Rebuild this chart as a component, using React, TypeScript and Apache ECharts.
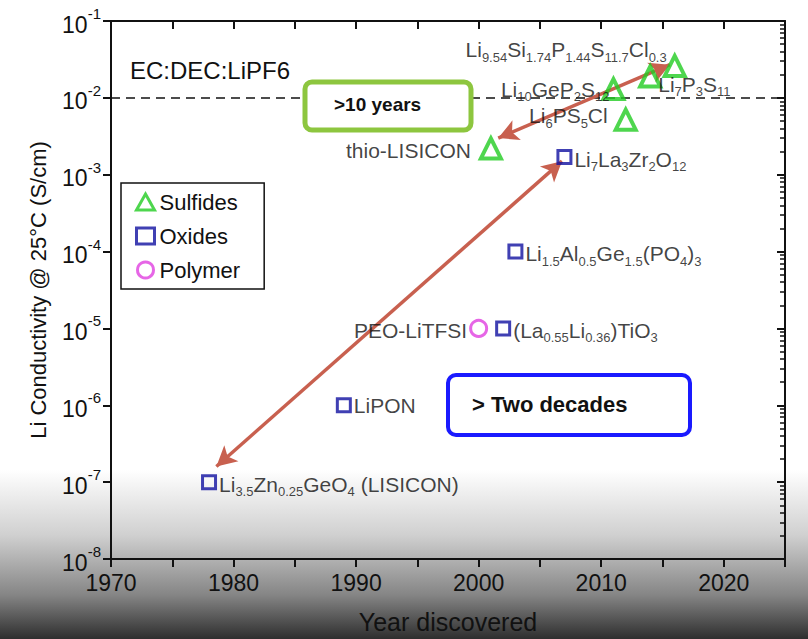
import React, { useEffect, useRef } from "react";
import * as echarts from "echarts";

const sulfideYears = [2001, 2012, 2011, 2014, 2016];
const sulfideValues = [2.2e-3, 5.2e-3, 1.3e-2, 1.9e-2, 2.6e-2];
const sulfideLabels = [
  "{n|thio-LISICON}",
  "{n|Li}{s|6}{n|PS}{s|5}{n|Cl}",
  "{n|Li}{s|10}{n|GeP}{s|2}{n|S}{s|12}",
  "{n|Li}{s|7}{n|P}{s|3}{n|S}{s|11}",
  "{n|Li}{s|9.54}{n|Si}{s|1.74}{n|P}{s|1.44}{n|S}{s|11.7}{n|Cl}{s|0.3}",
];
const oxideYears = [1978, 1989, 2002, 2003, 2007];
const oxideValues = [1e-7, 1e-6, 1e-5, 1e-4, 1.7e-3];
const oxideLabels = [
  "{n|Li}{s|3.5}{n|Zn}{s|0.25}{n|GeO}{s|4}{n| (LISICON)}",
  "{n|LiPON}",
  "{n|(La}{s|0.55}{n|Li}{s|0.36}{n|)TiO}{s|3}",
  "{n|Li}{s|1.5}{n|Al}{s|0.5}{n|Ge}{s|1.5}{n|(PO}{s|4}{n|)}{s|3}",
  "{n|Li}{s|7}{n|La}{s|3}{n|Zr}{s|2}{n|O}{s|12}",
];
const polymerYears = [2000];
const polymerValues = [1e-5];
const polymerLabels = ["{n|PEO-LiTFSI}"];
const xTicks = [1970, 1980, 1990, 2000, 2010, 2020];
const electrolyteLevel = 1e-2;
const arrowLong = [[1978.6, 1.6e-7], [2006.8, 1.5e-3]];
const arrowShort = [[2001.6, 3.0e-3], [2015.6, 2.7e-2]];

const FONT = "Liberation Sans, Arial, sans-serif";
const rich = {
  n: { fontSize: 21, color: "#111", fontFamily: FONT, lineHeight: 28, verticalAlign: "middle" },
  s: { fontSize: 13, color: "#111", fontFamily: FONT, lineHeight: 28, verticalAlign: "bottom", padding: [10, 0, 0, 0] },
};

const sulfidePos = [
  { position: "left", offset: [-6, 2] },
  { position: "left", offset: [-4, -4] },
  { position: "left", offset: [10, 0] },
  { position: "right", offset: [-6, 8] },
  { position: "left", offset: [6, -16] },
];
const oxidePos = [
  { position: "right", offset: [0, 2] },
  { position: "right", offset: [0, 0] },
  { position: "right", offset: [0, 2] },
  { position: "right", offset: [0, 2] },
  { position: "right", offset: [0, 2] },
];

export default function App() {
  const ref = useRef<HTMLDivElement>(null);
  useEffect(() => {
    const chart = echarts.init(ref.current!, null, { renderer: "svg" });
    const mk = (ys: number[], vs: number[], labels: string[], pos: any[]) =>
      ys.map((y, i) => ({
        value: [y, vs[i]],
        label: { show: true, formatter: labels[i], rich, position: pos[i].position, offset: pos[i].offset, distance: 2 },
      }));
    const yFmt = (v: number) => "{b|10}{p|" + Math.round(Math.log10(v)) + "}";
    chart.setOption({
      animation: false,
      backgroundColor: "transparent",
      grid: { left: 111, right: 23, top: 21, bottom: 53 },
      legend: {
        left: 121, top: 183, orient: "vertical", borderColor: "#111", borderWidth: 1.5,
        padding: [8, 24, 8, 14], itemGap: 12, itemWidth: 18, itemHeight: 16,
        backgroundColor: "#fff",
        itemStyle: { borderWidth: 3 },
        textStyle: { fontSize: 22, fontFamily: FONT, color: "#111" },
        data: ["Sulfides", "Oxides", "Polymer"],
      },
      xAxis: [
        {
          type: "value", min: 1970, max: 2025, interval: 10,
          axisLine: { lineStyle: { color: "#111", width: 2 } },
          axisTick: { show: true, length: 8, lineStyle: { width: 2 } },
          minorTick: { show: true, splitNumber: 2, length: 8, lineStyle: { color: "#111", width: 2 } },
          splitLine: { show: false },
          axisLabel: { fontSize: 23, fontFamily: FONT, color: "#111", margin: 12, formatter: (v: number) => (xTicks.includes(v) ? String(v) : "") },
          name: "Year discovered", nameLocation: "middle", nameGap: 50,
          nameTextStyle: { fontSize: 25, fontFamily: FONT, color: "#111" },
        },
        {
          type: "value", min: 1970, max: 2025, interval: 10, position: "top",
          axisLine: { lineStyle: { color: "#111", width: 2 } },
          axisTick: { show: true, inside: true, length: 8, lineStyle: { width: 2 } },
          minorTick: { show: true, splitNumber: 2, length: 8, lineStyle: { color: "#111", width: 2 } },
          splitLine: { show: false }, axisLabel: { show: false },
        },
      ],
      yAxis: [
        {
          type: "log", min: 1e-8, max: 1e-1, logBase: 10, interval: 1,
          axisLine: { show: true, lineStyle: { color: "#111", width: 2 } },
          axisTick: { show: true, length: 8, lineStyle: { width: 2 } },
          splitLine: { show: false },
          axisLabel: {
            formatter: yFmt, margin: 10,
            rich: {
              b: { fontSize: 23, fontFamily: FONT, color: "#111", lineHeight: 30, verticalAlign: "bottom" },
              p: { fontSize: 15, fontFamily: FONT, color: "#111", lineHeight: 30, verticalAlign: "top" },
            },
          },
          name: "Li Conductivity @ 25°C (S/cm)", nameLocation: "middle", nameGap: 62,
          nameTextStyle: { fontSize: 22, fontFamily: FONT, color: "#111" },
        },
        {
          type: "log", min: 1e-8, max: 1e-1, logBase: 10, position: "right",
          axisLine: { show: true, lineStyle: { color: "#111", width: 2 } },
          axisTick: { show: true, inside: true, length: 8, lineStyle: { width: 2 } },
          minorTick: { show: true, splitNumber: 9, length: 5, lineStyle: { color: "#111", width: 1.5 } },
          splitLine: { show: false }, axisLabel: { show: false },
        },
      ],
      series: [
        {
          name: "Sulfides", type: "scatter", symbol: "triangle", symbolSize: 20, z: 5,
          itemStyle: { color: "rgba(0,0,0,0)", borderColor: "#22cc22", borderWidth: 4 },
          data: mk(sulfideYears, sulfideValues, sulfideLabels, sulfidePos),
          markLine: {
            silent: true, symbol: "none", label: { show: false },
            lineStyle: { color: "#111", type: [9, 6], width: 1.5 },
            data: [{ yAxis: electrolyteLevel }],
          },
        },
        {
          name: "Oxides", type: "scatter", symbol: "rect", symbolSize: 13, z: 5,
          itemStyle: { color: "rgba(0,0,0,0)", borderColor: "#1010a0", borderWidth: 3 },
          data: mk(oxideYears, oxideValues, oxideLabels, oxidePos),
          markLine: {
            silent: true, symbol: ["arrow", "arrow"], symbolSize: [16, 20], label: { show: false },
            lineStyle: { color: "#c8604f", type: "solid", width: 3.5 },
            data: [
              [{ coord: arrowLong[0] }, { coord: arrowLong[1] }],
              [{ coord: arrowShort[0] }, { coord: arrowShort[1] }],
            ],
          },
        },
        {
          name: "Polymer", type: "scatter", symbol: "circle", symbolSize: 16, z: 5,
          itemStyle: { color: "rgba(0,0,0,0)", borderColor: "#e040e0", borderWidth: 3 },
          data: mk(polymerYears, polymerValues, polymerLabels, [{ position: "left", offset: [0, 2] }]),
        },
      ],
      graphic: [
        { type: "text", left: 130, top: 58, z: 10, style: { text: "EC:DEC:LiPF6", fontSize: 24, fontFamily: FONT, fill: "#111" } },
        { type: "rect", z: 20, shape: { x: 305, y: 82, width: 166, height: 48, r: 7 }, style: { fill: "#fff", stroke: "#8dc63f", lineWidth: 5 } },
        { type: "text", z: 21, left: 334, top: 95, style: { text: ">10 years", fontSize: 19, fontWeight: "bold", fontFamily: FONT, fill: "#111" } },
        { type: "rect", z: 20, shape: { x: 448, y: 375, width: 242, height: 60, r: 8 }, style: { fill: "#fff", stroke: "#1a1aff", lineWidth: 4 } },
        { type: "text", z: 21, left: 472, top: 393, style: { text: "> Two decades", fontSize: 22, fontWeight: "bold", fontFamily: FONT, fill: "#111" } },
      ],
    });
    return () => chart.dispose();
  }, []);
  return (
    <div
      style={{
        position: "fixed", left: 0, top: 0, width: 808, height: 639,
        background: "linear-gradient(to bottom, #ffffff 0px, #ffffff 470px, #d0d0d0 535px, #858585 595px, #2e2e2e 639px)",
      }}
    >
      <div ref={ref} style={{ width: 808, height: 639 }} />
    </div>
  );
}
